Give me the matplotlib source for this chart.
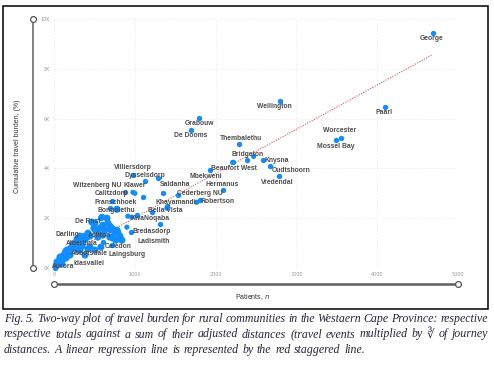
import matplotlib
matplotlib.use("Agg")
import matplotlib.pyplot as plt
from matplotlib.lines import Line2D
from matplotlib.patches import Rectangle

W, H = 494, 366

# labelled communities
towns = ["George", "Wellington", "Paarl", "Worcester", "Mossel Bay", "Grabouw",
         "De Dooms", "Thembalethu", "Bridgeton", "Knysna", "Oudtshoorn", "Vredendal",
         "Beaufort West", "Mbekweni", "Hermanus", "Cederberg NU", "Robertson",
         "Khayamandi", "Bella Vista", "Saldanha", "Villiersdorp", "Dysselsdorp",
         "Witzenberg NU", "Klawer", "Calitzdorp", "Franschhoek", "Bongolethu",
         "KwaNoqaba", "De Rust", "Bredasdorp", "Ladismith", "Darling", "Ashton",
         "Albertinia", "Caledon", "Abbotsdale", "Laingsburg", "Aurora", "Idasvallei"]
town_patients = [4693, 2803, 4100, 3557, 3495, 1791,
                 1692, 2285, 2384, 2581, 2668, 2779,
                 2211, 1927, 2087, 1531, 1803,
                 1396, 1210, 1346, 1284, 1124,
                 976, 1099, 877, 716, 692,
                 1025, 568, 951, 1309, 358, 692,
                 296, 605, 198, 716, 12, 99]
town_burden = [9440, 6720, 6480, 5240, 5160, 6040,
               5560, 4960, 4320, 4320, 4080, 3680,
               4240, 3920, 3120, 2920, 2720,
               2480, 2240, 3000, 3600, 3480,
               3720, 2840, 3040, 2680, 2400,
               2120, 2000, 1440, 1760, 1320, 1520,
               1040, 1040, 600, 920, 0, 320]

# unlabelled communities
other_patients = [2470, 976, 1000, 778, 1396, 1766, 914, 963, 593, 655,
                  469, 506, 605, 667, 692, 716, 778, 902, 753, 790,
                  420, 346, 321, 284, 543, 543, 605, 445, 729, 222,
                  161, 136, 74, 37, 321, 383, 49, 173, 259, 235,
                  198, 111, 74, 148, 62, 25, 124, 247, 272, 370,
                  395, 445, 494, 519, 568, 630, 815, 840, 580, 506,
                  420, 692, 766, 86, 148, 198, 296, 346, 99, 2211]
other_burden = [4480, 3040, 3000, 2360, 2400, 2640, 2080, 2040, 2040, 2000,
                1840, 1800, 1720, 1800, 1680, 1600, 1520, 1640, 1400, 1440,
                1400, 1200, 1280, 1160, 1240, 1440, 1320, 840, 1200, 840,
                720, 600, 440, 240, 720, 520, 200, 680, 840, 960,
                760, 480, 360, 680, 160, 80, 400, 880, 920, 1120,
                1200, 1280, 1600, 1480, 1600, 1520, 1280, 1120, 840, 720,
                760, 1240, 1120, 240, 400, 520, 720, 880, 160, 4240]

# regression line
trend_x = [0, 4680]
trend_y = [240, 8560]

# label offsets in pixels (label centre minus dot)
label_off = {
    "George": (-2, 6), "Wellington": (-6, 6), "Paarl": (-1, 6), "Worcester": (-2, -7),
    "Mossel Bay": (-1, 7), "Grabouw": (1, 6), "De Dooms": (0, 6), "Thembalethu": (2, -6),
    "Bridgeton": (1, -6), "Knysna": (14, 0), "Oudtshoorn": (22, 4), "Vredendal": (-1, 6),
    "Beaufort West": (1, 6), "Mbekweni": (-4, 6), "Hermanus": (-1, -6),
    "Cederberg NU": (22, -2), "Robertson": (18, 1), "Khayamandi": (9, -4),
    "Bella Vista": (14, -2), "Saldanha": (12, -9), "Villiersdorp": (-25, -11),
    "Dysselsdorp": (0, -6), "Witzenberg NU": (-36, 10), "Klawer": (-8, -12),
    "Calitzdorp": (-13, 1), "Franschhoek": (4, 1), "Bongolethu": (6, 2),
    "KwaNoqaba": (13, 3), "De Rust": (-12, 3), "Bredasdorp": (21, -1),
    "Ladismith": (-6, 17), "Darling": (-16, -1), "Ashton": (-10, 5),
    "Albertinia": (4, 1), "Caledon": (15, 4), "Abbotsdale": (19, 0),
    "Laingsburg": (15, 9), "Aurora": (8, -2), "Idasvallei": (27, 3),
}


def fx(px):
    return px / W


def fy(py):
    return 1 - py / H


fig = plt.figure(figsize=(W / 100, H / 100), dpi=100)
fig.patch.set_facecolor("white")

ax = fig.add_axes([fx(54), fy(268), fx(458) - fx(54), fy(19) - fy(268)])
ax.set_xlim(0, 5000)
ax.set_ylim(0, 10000)
for s in ax.spines.values():
    s.set_visible(False)
ax.set_xticks([0, 1000, 2000, 3000, 4000, 5000])
ax.set_yticks([0, 2000, 4000, 6000, 8000, 10000])
ax.set_yticklabels(["0K", "2K", "4K", "6K", "8K", "10K"])
ax.tick_params(length=0, labelsize=3.5, labelcolor="#9a9a9a", pad=3)
ax.grid(True, color="#ececec", linestyle=(0, (2, 2)), lw=0.6)
ax.set_axisbelow(True)

blue = "#118DFF"
sizes = [26 if p < 900 else 14 for p in other_patients]
ax.scatter(other_patients, other_burden, s=sizes, color=blue, lw=0, zorder=3, clip_on=False)
ax.scatter(town_patients, town_burden, s=15, color=blue, lw=0, zorder=3, clip_on=False)
ax.plot(trend_x, trend_y, color="#e35a5a", lw=0.8, linestyle=(0, (1, 1.3)), zorder=2)

for name, xv, yv in zip(towns, town_patients, town_burden):
    dx, dy = label_off[name]
    ax.annotate(name, (xv, yv), xytext=(dx * 0.72, -dy * 0.72), textcoords="offset points",
                ha="center", va="center", fontsize=4.9, fontweight="bold",
                family="Liberation Sans", color="#4d4d4d", zorder=4)

# slider-like axis bars
def bar(x0, y0, x1, y1, lw):
    fig.add_artist(Line2D([fx(x0), fx(x1)], [fy(y0), fy(y1)], transform=fig.transFigure,
                          color="#606060", lw=lw))
    fig.add_artist(Line2D([fx(x0), fx(x1)], [fy(y0), fy(y1)], transform=fig.transFigure,
                          lw=0, marker="o", ms=4.2, mfc="white", mec="#555555", mew=0.9))

bar(33, 19, 33, 268, 1.1)
bar(54, 284, 458, 284, 1.8)

fig.text(fx(18), fy(146), "Cumulative travel burden, (%)", rotation=90, ha="center",
         va="center", fontsize=5, family="Liberation Sans", color="#333333")
fig.text(fx(253), fy(297), "Patients, $\\it{n}$", ha="center", va="center",
         fontsize=5, family="Liberation Sans", color="#333333")

fig.add_artist(Rectangle((fx(3), fy(309)), fx(488) - fx(3), fy(6) - fy(309), fill=False,
                         ec="black", lw=1.1, transform=fig.transFigure))

# caption, justified like the journal text
caption = [
    "Fig. 5. Two-way plot of travel burden for rural communities in the Westaern Cape Province: respective",
    "respective totals against a sum of their adjusted distances (travel events multiplied by \u221B of journey",
    "distances. A linear regression line is represented by the red staggered line.",
]
cap_kw = dict(fontsize=8.6, style="italic", family=["Liberation Serif", "DejaVu Serif"],
              color="#26263c", va="center", ha="left")
renderer = fig.canvas.get_renderer()
left, right = 4, 488
for i, (line, py) in enumerate(zip(caption, [319, 334.5, 350])):
    words = line.split()
    texts = [fig.text(0, fy(py), w, **cap_kw) for w in words]
    widths = [t.get_window_extent(renderer=renderer).width for t in texts]
    if i < 2:
        gap = (right - left - sum(widths)) / (len(words) - 1)
    else:
        gap = 3.6
    x = left
    for t, w in zip(texts, widths):
        t.set_x(fx(x))
        x += w + gap

fig.savefig("out.png", dpi=100)
